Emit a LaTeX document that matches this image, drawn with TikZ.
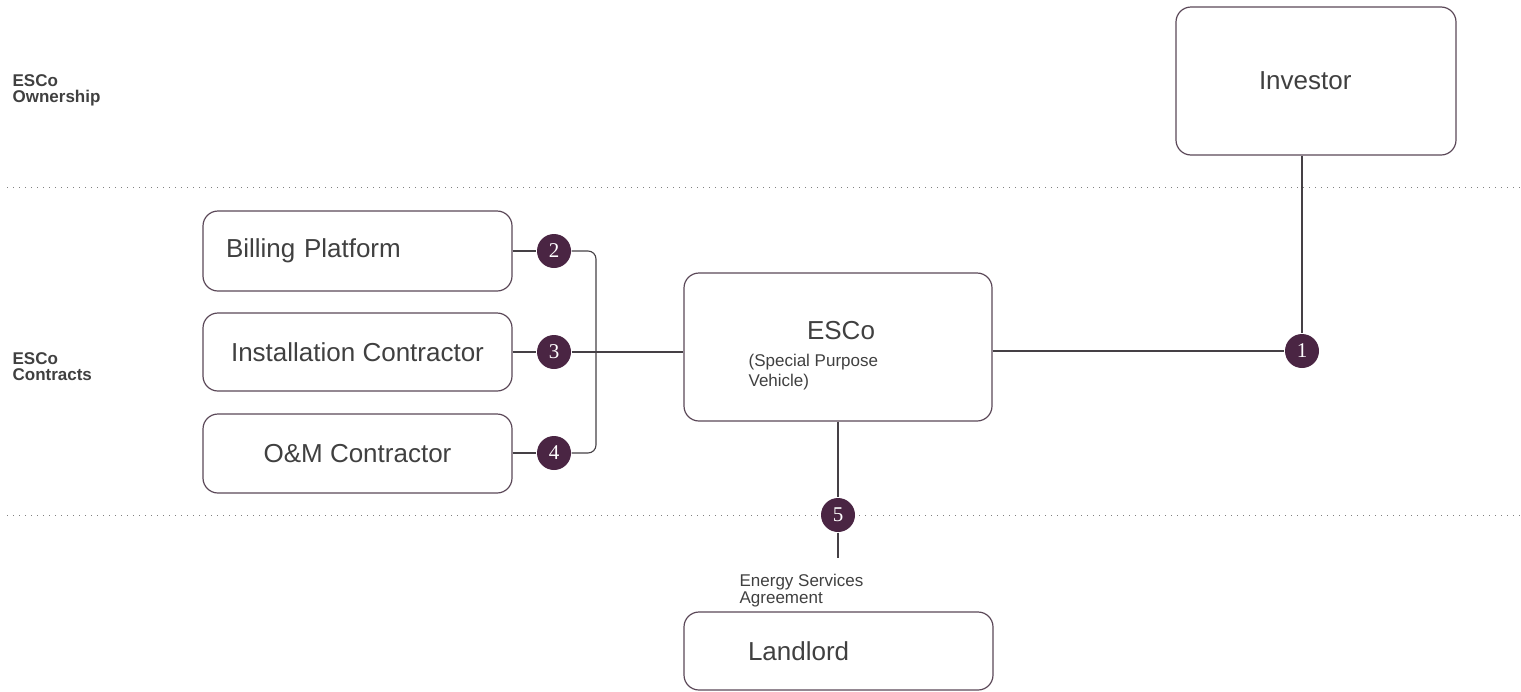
\documentclass[tikz,border=0pt]{standalone}
\usepackage{fontspec}
\setmainfont{Liberation Sans}
\newfontfamily\numfont{Liberation Serif}
\usetikzlibrary{positioning}

\definecolor{boxline}{HTML}{5B4858}
\definecolor{numfill}{HTML}{4A2543}
\definecolor{txtgray}{HTML}{404040}
\definecolor{linkgray}{HTML}{454045}

\begin{document}
\begin{tikzpicture}[x=0.5pt, y=-0.5pt, semithick,
    entity/.style={draw=boxline, line width=0.6pt, rounded corners=7.5pt, text=txtgray,
        font=\fontsize{13}{15}\selectfont, minimum width=154.5pt, inner sep=0pt},
    num/.style={circle, fill=numfill, text=white, minimum size=17pt, inner sep=0pt,
        font=\numfont\fontsize{10.5}{10.5}\selectfont},
    link/.style={draw=linkgray, line width=0.55pt},
    lane/.style={draw=gray, line width=0.5pt, dash pattern=on 0.5pt off 2.5pt},
    lanetext/.style={anchor=west, align=left, text=txtgray, inner sep=0pt,
        font=\bfseries\fontsize{8.5}{8}\selectfont},
    smalltext/.style={anchor=west, align=left, text=txtgray, inner sep=0pt,
        font=\fontsize{8.5}{8.5}\selectfont}]
    \useasboundingbox (0,0) rectangle (1521,691);

    % lanes
    \coordinate (laneA0) at (7,187);
    \coordinate (laneA1) at (1521,187);
    \coordinate (laneB0) at (7,515);
    \coordinate (laneB1) at (1521,515);
    \draw[lane] (laneA0) -- (laneA1);
    \draw[lane] (laneB0) -- (laneB1);
    \node[lanetext] (own) at (12,90) {ESCo\\Ownership};
    \node[lanetext] (con) at (12,367) {ESCo\\Contracts};

    % boxes
    \node[entity, minimum width=140pt, minimum height=74pt, align=left, inner xsep=41.5pt, text width=57pt] (inv) at (1316,81) {Investor};
    \node[entity, minimum height=40pt, align=left, inner xsep=11.5pt, text width=131.5pt] (bill) at (357.5,251) {Billing Platform};
    \node[entity, minimum height=39pt] (inst) at (357.5,352) {Installation Contractor};
    \node[entity, minimum height=39.5pt] (om) at (357.5,453.5) {O\&M Contractor};
    \node[entity, minimum width=154pt, minimum height=74pt] (esco) at (838,347) {};
    \node[text=txtgray, font=\fontsize{13}{15}\selectfont, inner sep=0pt] (escot) at (841,331) {ESCo};
    \node[smalltext, font=\fontsize{8.5}{10}\selectfont] (spv) at (748,372) {(Special Purpose\\Vehicle)};
    \node[entity, minimum height=39pt, align=left, inner xsep=32pt, text width=90.5pt] (land) at (838.5,651) {Landlord};
    \node[smalltext] (esa) at (739,591) {Energy Services\\Agreement};

    % numbered links
    \node[num] (n1) at (1302,351) {1};
    \node[num] (n2) at (554,251) {2};
    \node[num] (n3) at (554,352) {3};
    \node[num] (n4) at (554,453) {4};
    \node[num] (n5) at (838,515) {5};
    \coordinate (brk) at (596,352);
    \coordinate (esaend) at (838,558);

    \draw[link] (inv.south -| n1) -- (n1);
    \draw[link] (esco.east |- n1) -- (n1);
    \draw[link] (bill.east |- n2) -- (n2);
    \draw[link] (inst.east |- n3) -- (n3);
    \draw[link] (om.east |- n4) -- (n4);
    \draw[link, rounded corners=4pt] (n2.east) -| (brk) |- (n4.east);
    \draw[link] (n3) -- (esco.west |- n3);
    \draw[link] (esco.south -| n5) -- (n5) -- (esaend);
\end{tikzpicture}
\end{document}
